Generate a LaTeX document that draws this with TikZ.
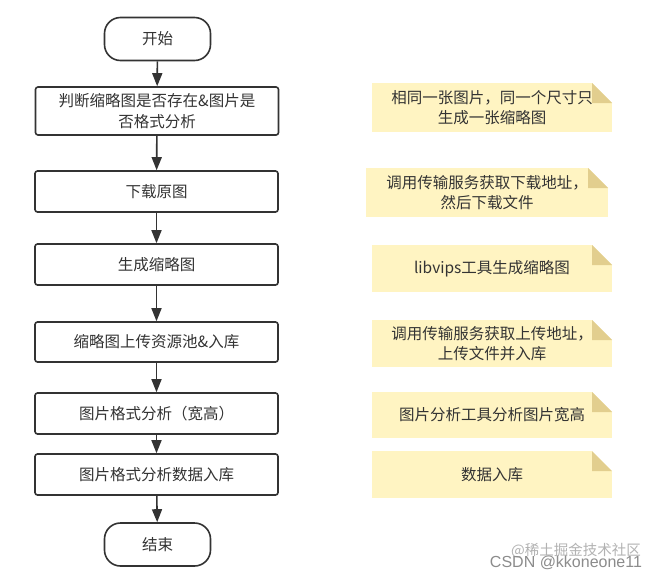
\documentclass[tikz,border=0pt]{standalone}
\usepackage{fontspec}
\setmainfont{Noto Sans CJK SC}
\newfontfamily\latinsans{Liberation Sans}
\usetikzlibrary{arrows.meta}
\definecolor{linec}{HTML}{333333}
\definecolor{txtc}{HTML}{333333}
\definecolor{notefill}{HTML}{FFF4C2}
\definecolor{foldc}{HTML}{E2CE8E}
\tikzset{
  base/.style={inner sep=0pt, align=center, text=txtc, font=\fontsize{15.5}{20.5}\selectfont},
  procbox/.style={base, draw=linec, line width=1.6pt, rounded corners=2.5pt, minimum width=243pt},
  termbox/.style={base, draw=linec, line width=1.6pt, rounded corners=16pt, minimum width=106pt, minimum height=43pt},
  notebox/.style={base, fill=notefill, minimum width=240pt, minimum height=48pt,
    path picture={
      \fill[white] ([xshift=-20pt]path picture bounding box.north east) -- (path picture bounding box.north east) -- ([yshift=-20pt]path picture bounding box.north east) -- cycle;
      \fill[foldc] ([xshift=-20pt]path picture bounding box.north east) -- ([xshift=-20pt,yshift=-20pt]path picture bounding box.north east) -- ([yshift=-20pt]path picture bounding box.north east) -- cycle;
    }},
  arr/.style={draw=linec, line width=1.6pt, -{Triangle[length=13pt,width=10pt]}}
}
\begin{document}
\begin{tikzpicture}[x=1pt,y=-1pt]
\fill[white] (0,0) rectangle (655,579);
\useasboundingbox (0,0) rectangle (655,579);
% flow
\node[termbox] (start) at (157.5,39) {开始};
\node[procbox, minimum height=48pt] (b1) at (157,111) {判断缩略图是否存在\&图片是\\否格式分析};
\node[procbox, minimum height=41pt] (b2) at (156.5,191.5) {下载原图};
\node[procbox, minimum height=41pt] (b3) at (156.5,264.5) {生成缩略图};
\node[procbox, minimum height=40pt] (b4) at (156.5,342) {缩略图上传资源池\&入库};
\node[procbox, minimum height=41pt] (b5) at (156.5,413.5) {图片格式分析（宽高）};
\node[procbox, minimum height=41pt] (b6) at (156.5,474.5) {图片格式分析数据入库};
\node[termbox] (end) at (157.5,544.5) {结束};
\draw[arr] (start) -- (b1);
\draw[arr] (b1) -- (b2);
\draw[arr] (b2) -- (b3);
\draw[arr] (b3) -- (b4);
\draw[arr] (b4) -- (b5);
\draw[arr] (b5) -- (b6);
\draw[arr] (b6) -- (end);
% notes
\node[notebox, minimum height=49pt] (n1) at (492,107.5) {相同一张图片，同一个尺寸只\\生成一张缩略图};
\node[notebox, minimum width=242pt, minimum height=49pt] (n2) at (487,192.5) {调用传输服务获取下载地址，\\然后下载文件};
\node[notebox, minimum height=47pt] (n3) at (492,268.5) {libvips工具生成缩略图};
\node[notebox, minimum height=47pt] (n4) at (492,343.5) {调用传输服务获取上传地址，\\上传文件并入库};
\node[notebox, minimum height=46pt] (n5) at (492,415) {图片分析工具分析图片宽高};
\node[notebox, minimum height=47pt] (n6) at (492,474.5) {数据入库};
% watermark
\node[inner sep=0pt, text=black!30, font=\fontsize{14.5}{16}\selectfont] (wm1) at (576,551) {@稀土掘金技术社区};
\node[inner sep=0pt, text=black!45, font=\latinsans\fontsize{16}{18}\selectfont] (wm2) at (566,563) {CSDN @kkoneone11};
\end{tikzpicture}
\end{document}
